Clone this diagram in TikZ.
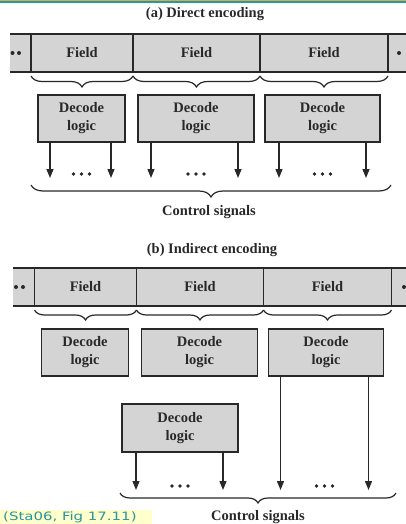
\documentclass[tikz,border=0pt]{standalone}
\usepackage{fontspec}
\setmainfont{Liberation Serif}
\newfontfamily\notefont[FakeStretch=1.3]{DejaVu Sans}
\usetikzlibrary{calc,positioning,arrows.meta,decorations.pathreplacing}
\definecolor{boxgray}{RGB}{212,212,212}
\definecolor{inkgray}{RGB}{40,40,40}
\definecolor{noteteal}{RGB}{38,150,160}
\definecolor{noteyellow}{RGB}{255,255,204}
\definecolor{barorange}{RGB}{240,160,60}
\definecolor{barteal}{RGB}{20,160,175}
\tikzset{
% Grey boxes: the register fields and the decode logic
field node/.style={rectangle,draw=inkgray,line width=1.6pt,fill=boxgray,minimum height=38pt,inner sep=0pt,outer sep=0pt,text=inkgray,font=\fontsize{14.5}{17}\selectfont\bfseries},
decode node/.style={rectangle,draw=inkgray,line width=1.6pt,fill=boxgray,minimum height=47pt,inner sep=0pt,outer sep=0pt,align=center,text=inkgray,font=\fontsize{14.5}{18}\selectfont\bfseries},
title node/.style={inner sep=0pt,text=inkgray,font=\fontsize{14.5}{17}\selectfont\bfseries},
reg line/.style={draw=inkgray,line width=1.6pt},
signal/.style={draw=inkgray,line width=1.3pt,-{Triangle[length=9pt,width=7pt]}},
grouping brace/.style={draw=inkgray,line width=1.2pt,decorate,decoration={brace,mirror,amplitude=#1}},
grouping brace/.default=11pt
}

\begin{document}
\begin{tikzpicture}[x=1pt,y=-1pt]
  \useasboundingbox (0,0) rectangle (406,524);
  \fill[barorange] (0,0) rectangle (406,1.2);
  \fill[barteal] (0,1.2) rectangle (406,3);

  % (a) direct encoding
  \node[title node] (ta) at (205,14) {(a) Direct encoding};
  \fill[boxgray] (10,34) rectangle (406,72);
  \node[field node,minimum width=102pt] (fa1) at (82,53) {Field};
  \node[field node,minimum width=127pt,right=0pt of fa1] (fa2) {Field};
  \node[field node,minimum width=128pt,right=0pt of fa2] (fa3) {Field};
  \draw[reg line] (10,34) -- (fa1.north west) (fa3.north east) -- (406,34);
  \draw[reg line] (10,72) -- (fa1.south west) (fa3.south east) -- (406,72);
  \foreach \p in {(12.5,53),(19,53),(399,53)}
    \fill[inkgray] \p circle (2pt);
  \foreach \f in {fa1,fa2,fa3}
    \draw[grouping brace] ([yshift=-4pt]\f.south west) -- ([yshift=-4pt]\f.south east);

  \node[decode node,minimum width=87pt] (da1) at (81.5,118.5) {Decode\\logic};
  \node[decode node,minimum width=116pt] (da2) at (196,118.5) {Decode\\logic};
  \node[decode node,minimum width=115pt] (da3) at (322.5,118.5) {Decode\\logic};
  \draw[signal] ([xshift=12pt]da1.south west) -- ++(0,36);
  \draw[signal] ([xshift=-14pt]da1.south east) -- ++(0,36);
  \draw[signal] ([xshift=13pt]da2.south west) -- ++(0,36);
  \draw[signal] ([xshift=-16pt]da2.south east) -- ++(0,36);
  \draw[signal] ([xshift=14pt]da3.south west) -- ++(0,36);
  \draw[signal] ([xshift=-14pt]da3.south east) -- ++(0,36);
  \coordinate (ma1) at ([yshift=-32pt]da1.south);
  \coordinate (ma2) at ([yshift=-32pt]da2.south);
  \coordinate (ma3) at ([yshift=-32pt]da3.south);
  \foreach \m in {ma1,ma2,ma3}
    \foreach \d in {-8,0,8}
      \fill[inkgray] ($(\m)+(\d,0)$) circle (1.9pt);
  \coordinate (bal) at (31,185);
  \coordinate (bar) at (391,185);
  \draw[grouping brace=12pt] (bal) -- (bar);
  \node[title node] (csa) at (209,212) {Control signals};

  % (b) indirect encoding
  \node[title node] (tb) at (212,250) {(b) Indirect encoding};
  \fill[boxgray] (13,268) rectangle (406,306);
  \node[field node,minimum width=102pt] (fb1) at (85.5,287) {Field};
  \node[field node,minimum width=127pt,right=0pt of fb1] (fb2) {Field};
  \node[field node,minimum width=128pt,right=0pt of fb2] (fb3) {Field};
  \draw[reg line] (13,268) -- (fb1.north west) (fb3.north east) -- (406,268);
  \draw[reg line] (13,306) -- (fb1.south west) (fb3.south east) -- (406,306);
  \foreach \p in {(16,287),(23,287),(404,287)}
    \fill[inkgray] \p circle (2pt);
  \foreach \f in {fb1,fb2,fb3}
    \draw[grouping brace=10pt] ([yshift=-4pt]\f.south west) -- ([yshift=-4pt]\f.south east);

  \node[decode node,minimum width=87pt] (db1) at (85,352.5) {Decode\\logic};
  \node[decode node,minimum width=116pt] (db2) at (199.5,352.5) {Decode\\logic};
  \node[decode node,minimum width=115pt] (db3) at (326,352.5) {Decode\\logic};
  \node[decode node,minimum width=116pt,minimum height=48pt] (db4) at (180,428) {Decode\\logic};
  \draw[signal] ([xshift=12pt]db3.south west) -- ++(0,114);
  \draw[signal] ([xshift=-15pt]db3.south east) -- ++(0,114);
  \draw[signal] ([xshift=14pt]db4.south west) -- ++(0,38);
  \draw[signal] ([xshift=-15pt]db4.south east) -- ++(0,38);
  \coordinate (mb1) at (180,486);
  \coordinate (mb2) at (324.5,486);
  \foreach \m in {mb1,mb2}
    \foreach \d in {-8,0,8}
      \fill[inkgray] ($(\m)+(\d,0)$) circle (1.9pt);
  \coordinate (bbl) at (120,493);
  \coordinate (bbr) at (396,493);
  \draw[grouping brace=10pt] (bbl) -- (bbr);
  \node[title node] (csb) at (258,517) {Control signals};

  % source note
  \fill[noteyellow] (0,510) rectangle (152,524);
  \node[anchor=base west,inner sep=0pt,text=noteteal,font=\notefont\fontsize{11.5}{13}\selectfont] (src) at (3,520.5) {(Sta06, Fig 17.11)};
\end{tikzpicture}
\end{document}
